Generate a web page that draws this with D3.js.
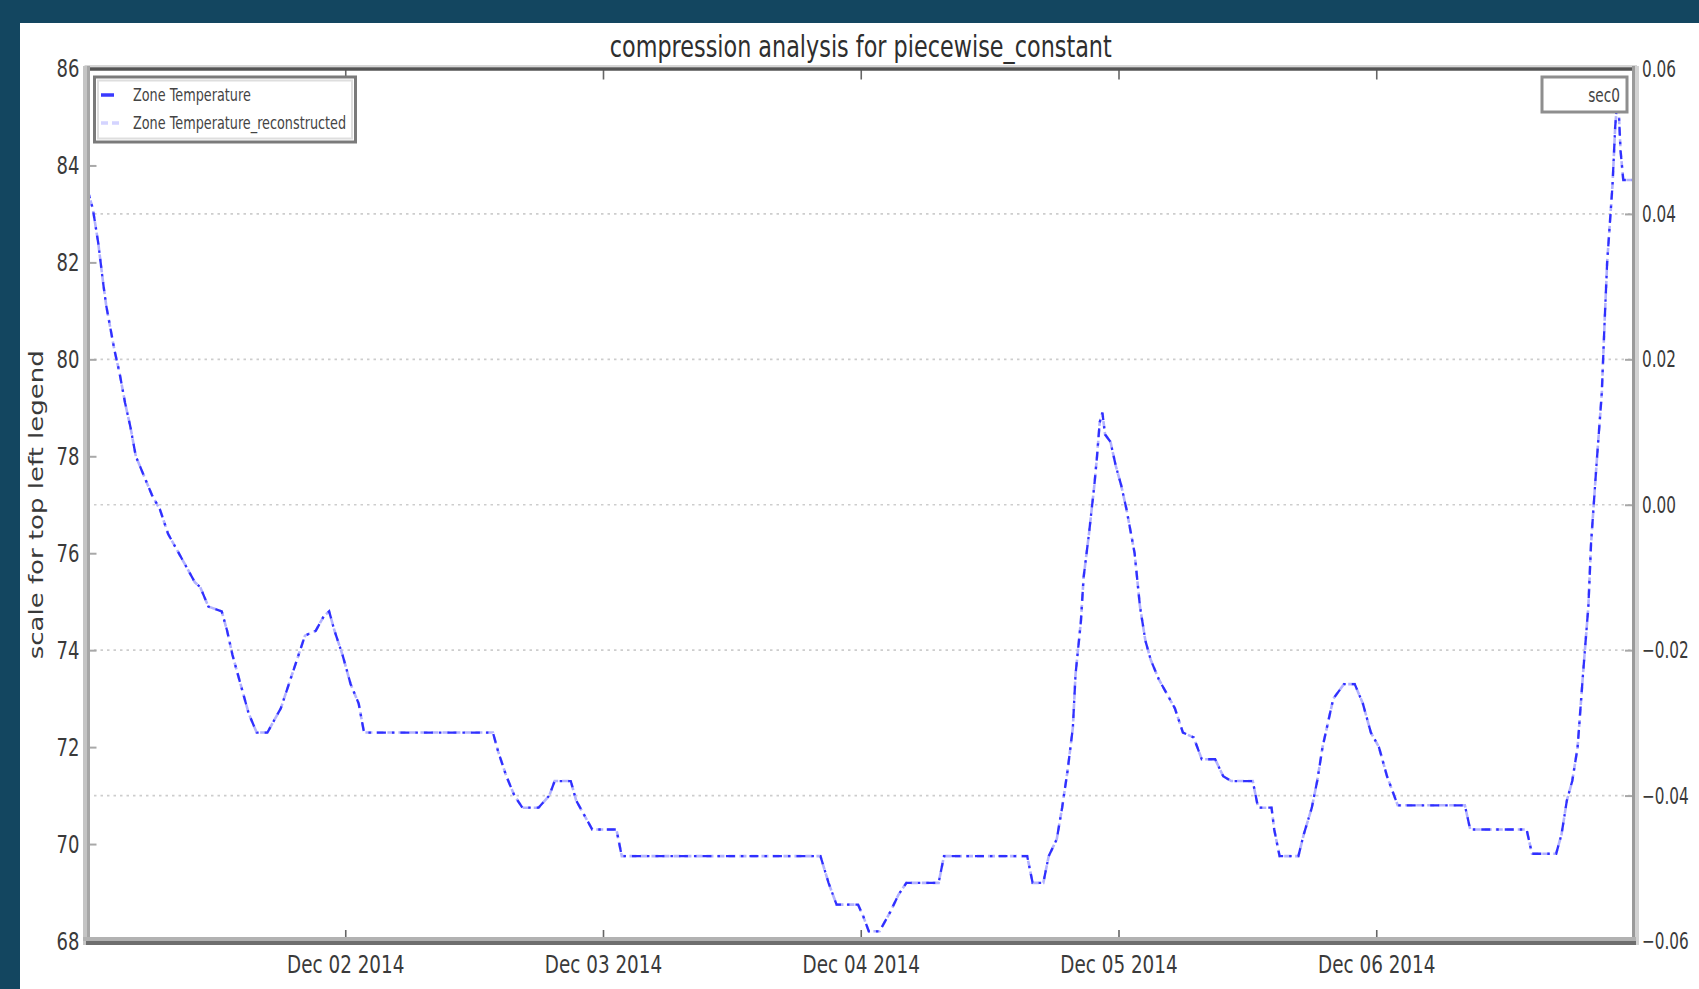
<!DOCTYPE html>
<html>
<head>
<meta charset="utf-8">
<script src="https://cdn.jsdelivr.net/npm/d3@7"></script>
<style>
  html, body { margin: 0; padding: 0; background: #134660; overflow: hidden; }
  svg { display: block; }
  text { font-family: "DejaVu Sans", sans-serif; }
</style>
</head>
<body>
<svg id="chart" width="1699" height="989"></svg>
<script>
// ---- chart text ----
const chartTitle = "compression analysis for piecewise_constant";
const yAxisLabel = "scale for top left legend";
const seriesNames = ["Zone Temperature", "Zone Temperature_reconstructed"];
const secondaryNames = ["sec0"];

// ---- axis ticks ----
const xDomain = ["2014-12-01 00:00", "2014-12-07 00:00"];
const xTickDates = ["2014-12-02 00:00", "2014-12-03 00:00", "2014-12-04 00:00", "2014-12-05 00:00", "2014-12-06 00:00"];
const leftTicks = [68, 70, 72, 74, 76, 78, 80, 82, 84, 86];
const rightTicks = [-0.06, -0.04, -0.02, 0.00, 0.02, 0.04, 0.06];

// ---- readings ----
const stamps = [
  "2014-12-01 00:00","2014-12-01 00:30","2014-12-01 01:00","2014-12-01 01:30","2014-12-01 01:45",
  "2014-12-01 02:30","2014-12-01 03:00","2014-12-01 03:30","2014-12-01 04:00","2014-12-01 04:30",
  "2014-12-01 05:15","2014-12-01 06:00","2014-12-01 06:45","2014-12-01 07:30","2014-12-01 08:15",
  "2014-12-01 09:00","2014-12-01 10:00","2014-12-01 10:30","2014-12-01 11:15","2014-12-01 12:30",
  "2014-12-01 13:00","2014-12-01 13:30","2014-12-01 14:15","2014-12-01 15:00","2014-12-01 15:45",
  "2014-12-01 16:45","2014-12-01 17:15","2014-12-01 18:00","2014-12-01 18:45","2014-12-01 19:30",
  "2014-12-01 20:15","2014-12-01 21:15","2014-12-01 22:00","2014-12-01 22:30","2014-12-01 23:00",
  "2014-12-01 23:45","2014-12-02 00:30","2014-12-02 01:15","2014-12-02 01:45","2014-12-02 13:45",
  "2014-12-02 14:15","2014-12-02 15:00","2014-12-02 15:45","2014-12-02 16:30","2014-12-02 18:00",
  "2014-12-02 19:00","2014-12-02 19:30","2014-12-02 21:00","2014-12-02 21:30","2014-12-02 22:30",
  "2014-12-02 23:00","2014-12-03 01:15","2014-12-03 01:45","2014-12-03 20:15","2014-12-03 21:00",
  "2014-12-03 21:45","2014-12-03 23:45","2014-12-04 00:15","2014-12-04 00:45","2014-12-04 01:45",
  "2014-12-04 02:45","2014-12-04 03:30","2014-12-04 04:15","2014-12-04 07:15","2014-12-04 07:45",
  "2014-12-04 15:30","2014-12-04 16:00","2014-12-04 17:00","2014-12-04 17:30","2014-12-04 18:15",
  "2014-12-04 18:45","2014-12-04 19:15","2014-12-04 19:45","2014-12-04 20:00","2014-12-04 20:30",
  "2014-12-04 20:45","2014-12-04 21:15","2014-12-04 21:45","2014-12-04 22:00","2014-12-04 22:15",
  "2014-12-04 22:30","2014-12-04 22:45","2014-12-04 23:15","2014-12-04 23:45","2014-12-05 00:15",
  "2014-12-05 00:45","2014-12-05 01:30","2014-12-05 02:00","2014-12-05 02:30","2014-12-05 03:00",
  "2014-12-05 03:45","2014-12-05 04:30","2014-12-05 05:15","2014-12-05 06:00","2014-12-05 07:00",
  "2014-12-05 07:45","2014-12-05 09:00","2014-12-05 09:45","2014-12-05 10:30","2014-12-05 12:30",
  "2014-12-05 13:00","2014-12-05 14:15","2014-12-05 14:30","2014-12-05 15:00","2014-12-05 16:45",
  "2014-12-05 17:15","2014-12-05 18:00","2014-12-05 18:30","2014-12-05 19:00","2014-12-05 19:30",
  "2014-12-05 20:00","2014-12-05 21:00","2014-12-05 22:00","2014-12-05 22:45","2014-12-05 23:30",
  "2014-12-06 00:15","2014-12-06 01:00","2014-12-06 02:00","2014-12-06 08:15","2014-12-06 08:45",
  "2014-12-06 14:00","2014-12-06 14:30","2014-12-06 16:45","2014-12-06 17:15","2014-12-06 17:45",
  "2014-12-06 18:15","2014-12-06 18:45","2014-12-06 19:15","2014-12-06 19:45","2014-12-06 20:00",
  "2014-12-06 20:30","2014-12-06 21:00","2014-12-06 21:15","2014-12-06 21:30","2014-12-06 22:00",
  "2014-12-06 22:15","2014-12-06 22:30","2014-12-06 22:45","2014-12-06 23:00","2014-12-06 23:59"
];

const zoneTemp = [
  83.5, 83.1, 82.4, 81.5, 81.1, 80.2, 79.7, 79.1, 78.6, 78.0,
  77.6, 77.2, 76.9, 76.4, 76.1, 75.8, 75.4, 75.3, 74.9, 74.8,
  74.4, 73.9, 73.3, 72.7, 72.3, 72.3, 72.5, 72.8, 73.3, 73.8,
  74.3, 74.4, 74.7, 74.8, 74.4, 73.9, 73.3, 72.9, 72.3, 72.3,
  71.9, 71.4, 71.0, 70.75, 70.75, 71.0, 71.3, 71.3, 70.9, 70.5,
  70.3, 70.3, 69.75, 69.75, 69.2, 68.75, 68.75, 68.5, 68.2, 68.2,
  68.6, 68.95, 69.2, 69.2, 69.75, 69.75, 69.2, 69.2, 69.75, 70.1,
  70.75, 71.5, 72.4, 73.5, 74.6, 75.5, 76.4, 77.4, 78.0, 78.7,
  78.9, 78.45, 78.3, 77.8, 77.4, 76.9, 76.0, 74.9, 74.2, 73.8,
  73.4, 73.1, 72.8, 72.3, 72.2, 71.75, 71.75, 71.4, 71.3, 71.3,
  70.75, 70.75, 70.3, 69.75, 69.75, 70.2, 70.75, 71.3, 72.0, 72.5,
  73.0, 73.3, 73.3, 72.9, 72.3, 72.0, 71.4, 70.8, 70.8, 70.3,
  70.3, 69.8, 69.8, 70.2, 70.9, 71.3, 72.0, 73.5, 74.9, 76.2,
  77.8, 79.3, 80.7, 82.0, 83.6, 84.8, 85.5, 84.3, 83.7, 83.7
];

const zoneTempReconstructed = [
  83.5, 83.1, 82.4, 81.5, 81.1, 80.2, 79.7, 79.1, 78.6, 78.0,
  77.6, 77.2, 76.9, 76.4, 76.1, 75.8, 75.4, 75.3, 74.9, 74.8,
  74.4, 73.9, 73.3, 72.7, 72.3, 72.3, 72.5, 72.8, 73.3, 73.8,
  74.3, 74.4, 74.7, 74.8, 74.4, 73.9, 73.3, 72.9, 72.3, 72.3,
  71.9, 71.4, 71.0, 70.75, 70.75, 71.0, 71.3, 71.3, 70.9, 70.5,
  70.3, 70.3, 69.75, 69.75, 69.2, 68.75, 68.75, 68.5, 68.2, 68.2,
  68.6, 68.95, 69.2, 69.2, 69.75, 69.75, 69.2, 69.2, 69.75, 70.1,
  70.75, 71.5, 72.4, 73.5, 74.6, 75.5, 76.4, 77.4, 78.0, 78.7,
  78.9, 78.45, 78.3, 77.8, 77.4, 76.9, 76.0, 74.9, 74.2, 73.8,
  73.4, 73.1, 72.8, 72.3, 72.2, 71.75, 71.75, 71.4, 71.3, 71.3,
  70.75, 70.75, 70.3, 69.75, 69.75, 70.2, 70.75, 71.3, 72.0, 72.5,
  73.0, 73.3, 73.3, 72.9, 72.3, 72.0, 71.4, 70.8, 70.8, 70.3,
  70.3, 69.8, 69.8, 70.2, 70.9, 71.3, 72.0, 73.5, 74.9, 76.2,
  77.8, 79.3, 80.7, 82.0, 83.6, 84.8, 85.5, 84.3, 83.7, 83.7
];

// ---- layout ----
const W = 1699, H = 989;
const plot = { left: 87.5, right: 1634, top: 68.5, bottom: 941 };
const SQUEEZE = 0.72; // horizontal condensing of the lettering

const parse = d3.utcParse("%Y-%m-%d %H:%M");
const x = d3.scaleUtc().domain(xDomain.map(parse)).range([plot.left, plot.right]);
const yL = d3.scaleLinear().domain([68, 86]).range([plot.bottom, plot.top]);
const yR = d3.scaleLinear().domain([-0.06, 0.06]).range([plot.bottom, plot.top]);

const svg = d3.select("#chart");

function squeeze(sel, k = SQUEEZE) {
  sel.each(function () {
    const w = this.getComputedTextLength();
    this.setAttribute("textLength", (w * k).toFixed(1));
    this.setAttribute("lengthAdjust", "spacingAndGlyphs");
  });
}

// frame and page
svg.append("rect").attr("width", W).attr("height", H).attr("fill", "#134660");
svg.append("rect").attr("x", 20).attr("y", 23).attr("width", W - 20).attr("height", H - 23).attr("fill", "#ffffff");

// horizontal grid from the secondary axis
svg.append("g").selectAll("line")
  .data(rightTicks.filter(t => Math.abs(t) < 0.059))
  .join("line")
  .attr("x1", plot.left).attr("x2", plot.right)
  .attr("y1", d => yR(d)).attr("y2", d => yR(d))
  .attr("stroke", "#cdcdcd").attr("stroke-width", 1.6)
  .attr("stroke-dasharray", "2.5,4");

// series
svg.append("clipPath").attr("id", "plotClip")
  .append("rect").attr("x", plot.left).attr("y", plot.top)
  .attr("width", plot.right - plot.left).attr("height", plot.bottom - plot.top);

const times = stamps.map(parse);
const line = d3.line().x(d => x(d[0])).y(d => yL(d[1]));
const gLines = svg.append("g").attr("clip-path", "url(#plotClip)");

gLines.append("path")
  .datum(times.map((t, i) => [t, zoneTempReconstructed[i]]))
  .attr("d", line).attr("fill", "none")
  .attr("stroke", "#b3b3ff").attr("stroke-width", 2.6)
  .attr("stroke-dasharray", "7,4");

gLines.append("path")
  .datum(times.map((t, i) => [t, zoneTemp[i]]))
  .attr("d", line).attr("fill", "none")
  .attr("stroke", "#3030ff").attr("stroke-width", 2.3)
  .attr("stroke-dasharray", "9,6,2.5,6");

// axes (tick marks point inward)
const gx = svg.append("g").attr("transform", `translate(0,${plot.bottom})`)
  .call(d3.axisBottom(x).tickValues(xTickDates.map(parse))
    .tickFormat(d3.utcFormat("%b %d %Y")).tickSizeInner(-11).tickSizeOuter(0).tickPadding(14));
const gxTop = svg.append("g").attr("transform", `translate(0,${plot.top})`)
  .call(d3.axisTop(x).tickValues(xTickDates.map(parse))
    .tickFormat("").tickSizeInner(-11).tickSizeOuter(0));
const gyL = svg.append("g").attr("transform", `translate(${plot.left},0)`)
  .call(d3.axisLeft(yL).tickValues(leftTicks).tickFormat(d3.format("d"))
    .tickSizeInner(-9).tickSizeOuter(0).tickPadding(8));
const gyR = svg.append("g").attr("transform", `translate(${plot.right},0)`)
  .call(d3.axisRight(yR).tickValues(rightTicks).tickFormat(d3.format(".2f"))
    .tickSizeInner(-9).tickSizeOuter(0).tickPadding(8));

[gx, gxTop, gyL, gyR].forEach(g => g.select(".domain").remove());
gx.selectAll(".tick line").attr("stroke", "#666").attr("stroke-width", 1.6);
gxTop.selectAll(".tick line").attr("stroke", "#666").attr("stroke-width", 1.6);
gyL.selectAll(".tick line").attr("stroke", "#a8a8a8").attr("stroke-width", 2);
gyR.selectAll(".tick line").attr("stroke", "#a8a8a8").attr("stroke-width", 2);

gx.selectAll(".tick text").attr("font-size", 25.5).attr("fill", "#3a3a3a").call(squeeze);
gyL.selectAll(".tick text").attr("font-size", 25).attr("fill", "#3a3a3a").call(squeeze);
// right-hand labels sit close to the page edge: condense them with a transform
gyR.selectAll(".tick text")
  .attr("font-size", 23.5).attr("fill", "#3a3a3a")
  .attr("x", 0).attr("transform", "translate(8,0) scale(0.65,1)");

// spines
const spines = svg.append("g").attr("fill", "none");
spines.append("line").attr("x1", plot.left - 3).attr("x2", plot.right + 3).attr("y1", 66).attr("y2", 66)
  .attr("stroke", "#d6d6d6").attr("stroke-width", 2);
spines.append("line").attr("x1", plot.left - 3).attr("x2", plot.right + 3).attr("y1", 69).attr("y2", 69)
  .attr("stroke", "#555").attr("stroke-width", 3.5);
spines.append("line").attr("x1", 85).attr("x2", 85).attr("y1", 66).attr("y2", 945)
  .attr("stroke", "#c4c4c4").attr("stroke-width", 4);
spines.append("line").attr("x1", 88.5).attr("x2", 88.5).attr("y1", 66).attr("y2", 945)
  .attr("stroke", "#a6a6a6").attr("stroke-width", 3);
spines.append("line").attr("x1", 1637).attr("x2", 1637).attr("y1", 66).attr("y2", 945)
  .attr("stroke", "#d2d2d2").attr("stroke-width", 4);
spines.append("line").attr("x1", 1633.5).attr("x2", 1633.5).attr("y1", 66).attr("y2", 945)
  .attr("stroke", "#9a9a9a").attr("stroke-width", 3);
spines.append("line").attr("x1", 83).attr("x2", plot.right + 2).attr("y1", 939).attr("y2", 939)
  .attr("stroke", "#b2b2b2").attr("stroke-width", 4);
spines.append("line").attr("x1", 86).attr("x2", plot.right + 2).attr("y1", 943).attr("y2", 943)
  .attr("stroke", "#6e6e6e").attr("stroke-width", 4);

// title
svg.append("text").attr("x", (plot.left + plot.right) / 2).attr("y", 57)
  .attr("text-anchor", "middle").attr("font-size", 31).attr("fill", "#2e2e2e")
  .text(chartTitle).call(squeeze);

// y axis label (vertical text, glyphs condensed across the line)
svg.append("text")
  .attr("transform", `translate(43,${(plot.top + plot.bottom) / 2}) rotate(-90) scale(1,${SQUEEZE})`)
  .attr("text-anchor", "middle").attr("font-size", 26).attr("fill", "#3a3a3a")
  .text(yAxisLabel);

// primary legend
const lg = svg.append("g");
lg.append("rect").attr("x", 94.5).attr("y", 77).attr("width", 261).attr("height", 65)
  .attr("fill", "#ffffff").attr("stroke", "#7a7a7a").attr("stroke-width", 3);
lg.append("rect").attr("x", 98).attr("y", 80.5).attr("width", 254).attr("height", 58)
  .attr("fill", "none").attr("stroke", "#dedede").attr("stroke-width", 2);
const legendRows = [
  { name: seriesNames[0], stroke: "#3a3aff", dash: "13,4,3,4", y: 95, len: 14 },
  { name: seriesNames[1], stroke: "#d4d4ff", dash: "7,4", y: 123, len: 20 }
];
legendRows.forEach(r => {
  lg.append("line").attr("x1", 101).attr("x2", 101 + r.len).attr("y1", r.y).attr("y2", r.y)
    .attr("stroke", r.stroke).attr("stroke-width", 3.5).attr("stroke-dasharray", r.dash);
  lg.append("text").attr("x", 133).attr("y", r.y).attr("dy", "0.36em")
    .attr("font-size", 17.8).attr("fill", "#444").text(r.name).call(squeeze);
});

// secondary legend
const lg2 = svg.append("g");
lg2.append("rect").attr("x", 1542).attr("y", 77).attr("width", 85).attr("height", 35)
  .attr("fill", "#ffffff").attr("stroke", "#8e8e8e").attr("stroke-width", 3);
lg2.append("text").attr("x", 1620).attr("y", 95).attr("dy", "0.36em").attr("text-anchor", "end")
  .attr("font-size", 19).attr("fill", "#444").text(secondaryNames[0]).call(squeeze);
</script>
</body>
</html>
